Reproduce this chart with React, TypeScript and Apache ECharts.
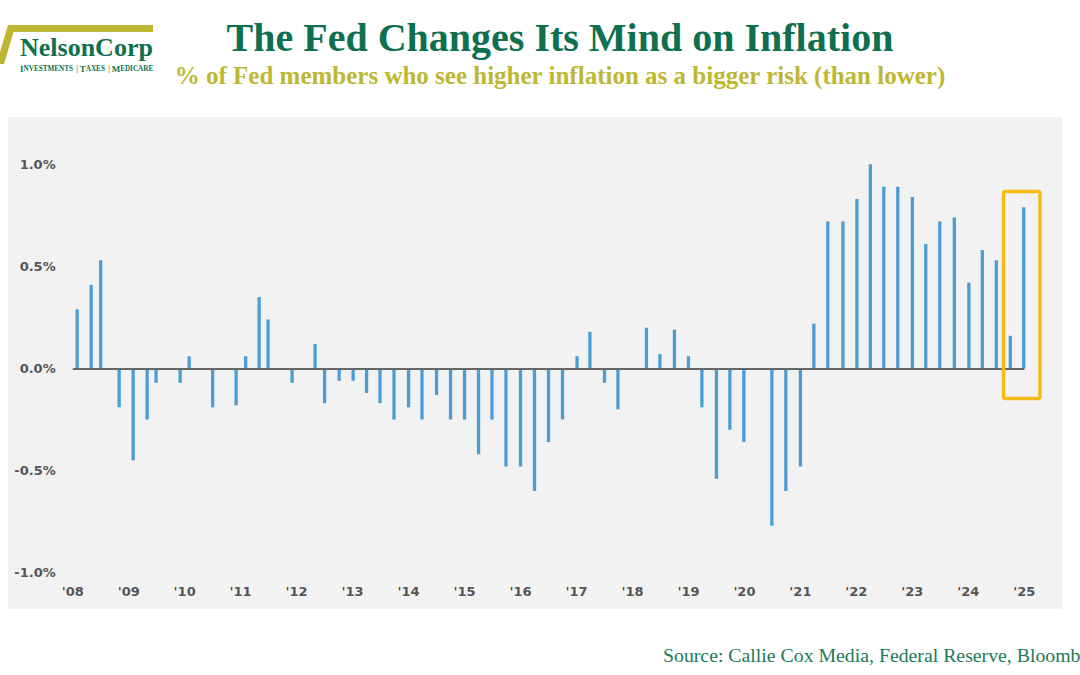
import React, { useEffect, useRef } from "react";
import * as echarts from "echarts";

// Dates of each projection round (decimal years) and the net share of members
// seeing higher inflation as the bigger risk (in %)
const meetingDates: number[] = [
  2008.08, 2008.33, 2008.5, 2008.83,
  2009.08, 2009.33, 2009.49, 2009.92,
  2010.08, 2010.5, 2010.92,
  2011.09, 2011.33, 2011.49, 2011.92,
  2012.33, 2012.5, 2012.76,
  2013.01, 2013.25, 2013.49, 2013.74,
  2014.0, 2014.24, 2014.5, 2014.75,
  2015.0, 2015.25, 2015.49, 2015.74,
  2016.0, 2016.25, 2016.5, 2016.75,
  2017.01, 2017.24, 2017.5, 2017.74,
  2018.25, 2018.49, 2018.75,
  2019.0, 2019.24, 2019.5, 2019.74, 2019.99,
  2020.49, 2020.74,
  2021.0, 2021.24, 2021.49, 2021.76,
  2022.01, 2022.25, 2022.49, 2022.74,
  2023.0, 2023.24, 2023.49, 2023.75,
  2024.01, 2024.25, 2024.5, 2024.75,
  2024.99,
];

const riskBalance: number[] = [
  0.29, 0.41, 0.53, -0.19,
  -0.45, -0.25, -0.07, -0.07,
  0.06, -0.19, -0.18,
  0.06, 0.35, 0.24, -0.07,
  0.12, -0.17, -0.06,
  -0.06, -0.12, -0.17, -0.25,
  -0.19, -0.25, -0.13, -0.25,
  -0.25, -0.42, -0.25, -0.48,
  -0.48, -0.6, -0.36, -0.25,
  0.06, 0.18, -0.07, -0.2,
  0.2, 0.07, 0.19,
  0.06, -0.19, -0.54, -0.3, -0.36,
  -0.77, -0.6,
  -0.48, 0.22, 0.72, 0.72,
  0.83, 1.0, 0.89, 0.89,
  0.84, 0.61, 0.72, 0.74,
  0.42, 0.58, 0.53, 0.16,
  0.79,
];

const yTicks = { min: -1, max: 1, step: 0.5 };
const xYears = { first: 2008, last: 2025 };

const TITLE = "The Fed Changes Its Mind on Inflation";
const SUBTITLE = "% of Fed members who see higher inflation as a bigger risk (than lower)";
const SOURCE = "Source: Callie Cox Media, Federal Reserve, Bloomberg";

export default function App() {
  const ref = useRef<HTMLDivElement>(null);

  useEffect(() => {
    if (!ref.current) return;
    const chart = echarts.init(ref.current, undefined, { renderer: "svg" });
    const seriesData = meetingDates.map((d, i) => [d, riskBalance[i]]);
    const green = "#0f7050";
    const olive = "#bdb733";

    chart.setOption({
      animation: false,
      backgroundColor: "#ffffff",
      grid: { left: 72.7, right: 55.7, top: 164.3, bottom: 102.3, containLabel: false },
      xAxis: {
        type: "value",
        min: xYears.first,
        max: xYears.last,
        interval: 1,
        axisLine: { show: false, onZero: false },
        axisTick: { show: false },
        splitLine: { show: false },
        axisLabel: {
          margin: 12,
          color: "#555",
          fontFamily: "DejaVu Sans",
          fontWeight: "bold",
          fontSize: 13,
          showMinLabel: true,
          showMaxLabel: true,
          formatter: (v: number) => "'" + String(Math.round(v)).slice(2),
        },
      },
      yAxis: {
        type: "value",
        min: yTicks.min,
        max: yTicks.max,
        interval: yTicks.step,
        axisLine: { show: false },
        axisTick: { show: false },
        splitLine: { show: false },
        axisLabel: {
          margin: 17,
          color: "#555",
          fontFamily: "DejaVu Sans",
          fontWeight: "bold",
          fontSize: 13,
          formatter: (v: number) => v.toFixed(1) + "%",
        },
      },
      series: [
        {
          type: "bar",
          data: seriesData,
          barWidth: 3.3,
          clip: false,
          itemStyle: { color: "#4a9ed8" },
          markLine: {
            silent: true,
            symbol: "none",
            label: { show: false },
            lineStyle: { color: "#666", width: 2, type: "solid" },
            data: [{ yAxis: 0 }],
          },
        },
      ],
      graphic: [
        {
          type: "rect",
          z: -10,
          shape: { x: 8, y: 117, width: 1054, height: 492 },
          style: { fill: "#f2f2f2" },
        },
        {
          type: "rect",
          z: 100,
          shape: { x: 1003.5, y: 191.5, width: 36.5, height: 207, r: 2 },
          style: { fill: "none", stroke: "#f7bc14", lineWidth: 3.5 },
        },
        {
          type: "polygon",
          shape: {
            points: [
              [8, 25], [153, 25], [153, 32], [13.5, 32], [4, 64], [0, 64], [0, 52],
            ],
          },
          style: { fill: olive },
        },
        {
          type: "text",
          style: {
            text: "NelsonCorp",
            x: 20,
            y: 47,
            fill: green,
            font: "bold 26px 'Liberation Serif'",
            textAlign: "left",
            textVerticalAlign: "middle",
          },
        },
        {
          type: "text",
          style: {
            text: "{b|I}{s|NVESTMENTS} {s|| }{b|T}{s|AXES} {s|| }{b|M}{s|EDICARE}",
            x: 20,
            y: 69,
            fill: green,
            textAlign: "left",
            textVerticalAlign: "middle",
            rich: {
              b: { fontFamily: "Liberation Serif", fontWeight: "bold", fontSize: 9, fill: green },
              s: { fontFamily: "Liberation Serif", fontWeight: "bold", fontSize: 7.2, fill: green },
            },
          },
        },
        {
          type: "text",
          style: {
            text: TITLE,
            x: 560,
            y: 37,
            fill: green,
            font: "bold 40px 'Liberation Serif'",
            textAlign: "center",
            textVerticalAlign: "middle",
          },
        },
        {
          type: "text",
          style: {
            text: SUBTITLE,
            x: 560,
            y: 75,
            fill: olive,
            font: "bold 25px 'Liberation Serif'",
            textAlign: "center",
            textVerticalAlign: "middle",
          },
        },
        {
          type: "text",
          style: {
            text: SOURCE,
            x: 663,
            y: 655,
            fill: "#1e7a58",
            font: "19.8px 'Liberation Serif'",
            textAlign: "left",
            textVerticalAlign: "middle",
          },
        },
      ],
    });

    return () => chart.dispose();
  }, []);

  return (
    <div
      ref={ref}
      style={{ position: "fixed", left: 0, top: 0, width: 1080, height: 675, background: "#fff" }}
    />
  );
}
